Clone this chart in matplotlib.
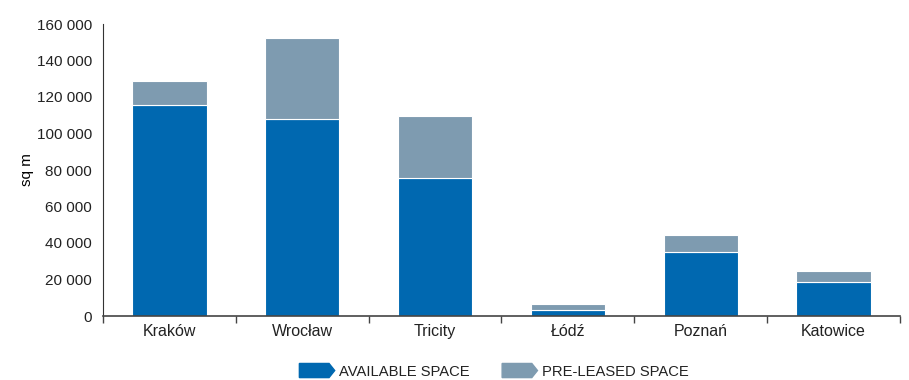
import numpy as np
import matplotlib
matplotlib.use('Agg')
import matplotlib.pyplot as plt
from matplotlib.patches import Polygon, Patch
from matplotlib.legend_handler import HandlerPatch
from matplotlib.ticker import FuncFormatter

plt.rcParams['font.family'] = ['Liberation Sans', 'DejaVu Sans']

cities = ['Kraków', 'Wrocław', 'Tricity', 'Łódź', 'Poznań', 'Katowice']
available = [115600, 108000, 75600, 3400, 35000, 18800]
pre_leased = [13200, 44300, 34000, 3200, 9200, 6000]

c_avail = '#0068b0'
c_pre = '#7e9bb0'

fig = plt.figure(figsize=(9.09, 3.8), dpi=100)
ax = fig.add_axes([103/909, 64/380, 797/909, 292/380])

x = np.arange(len(cities))
ax.bar(x, available, width=0.56, color=c_avail, edgecolor='white', linewidth=0.8)
ax.bar(x, pre_leased, width=0.56, bottom=available, color=c_pre, edgecolor='white', linewidth=0.8)

ax.set_xlim(-0.5, len(cities) - 0.5)
ax.set_ylim(0, 160000)
ax.set_yticks(np.arange(0, 160001, 20000))
ax.yaxis.set_major_formatter(FuncFormatter(lambda v, p: f'{int(v):,}'.replace(',', ' ')))
ax.tick_params(axis='y', length=0, labelsize=11, pad=8, colors='#222222')
ax.set_xticks(x)
ax.set_xticklabels(cities)
ax.tick_params(axis='x', which='major', length=0, labelsize=11.5, pad=6, colors='#222222')
ax.set_xticks(np.arange(-0.5, len(cities)), minor=True)
ax.tick_params(axis='x', which='minor', length=5, width=1, color='#444444', direction='out')
ax.set_ylabel('sq m', fontsize=11, labelpad=2)

for s in ['top', 'right']:
    ax.spines[s].set_visible(False)
ax.spines['left'].set_color('#333333')
ax.spines['bottom'].set_color('#444444')
ax.spines['bottom'].set_linewidth(1.2)


def arrow_patch(legend, orig_handle, xdescent, ydescent, width, height, fontsize):
    w, h = width, height
    x0, y0 = -xdescent, -ydescent
    pts = [(x0, y0), (x0 + w * 0.84, y0), (x0 + w, y0 + h / 2), (x0 + w * 0.84, y0 + h), (x0, y0 + h)]
    return Polygon(pts, closed=True)


handles = [Patch(color=c_avail), Patch(color=c_pre)]
labels = ['AVAILABLE SPACE', 'PRE-LEASED SPACE']
leg = fig.legend(handles, labels, loc='center', bbox_to_anchor=(494/909, 1 - 371/380), ncol=2, frameon=False,
                 fontsize=10.6, handlelength=2.4, handleheight=1.1, columnspacing=2.2, handletextpad=0.3,
                 handler_map={Patch: HandlerPatch(patch_func=arrow_patch)})
for t in leg.get_texts():
    t.set_color('#222222')

fig.savefig('out.png', dpi=100)
